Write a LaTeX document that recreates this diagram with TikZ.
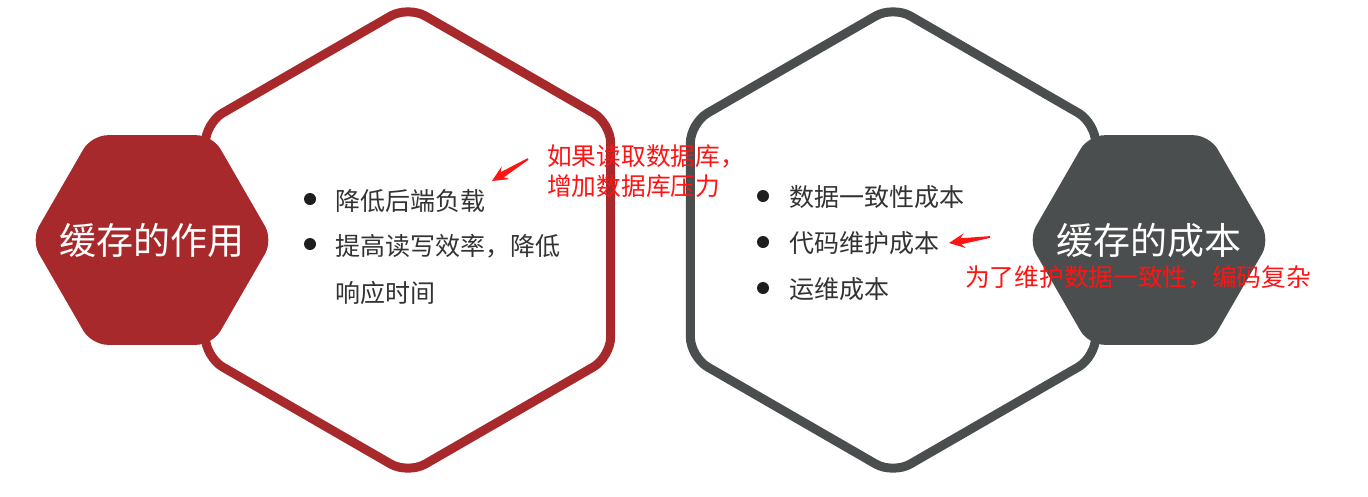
\documentclass[tikz,border=0pt]{standalone}
\usepackage{fontspec}
\setmainfont{Noto Sans CJK SC}
\usetikzlibrary{shapes.geometric,arrows.meta,calc}
\definecolor{hred}{HTML}{A8292B}
\definecolor{hgray}{HTML}{4B4E4E}
\definecolor{btext}{HTML}{333333}
\definecolor{bdot}{HTML}{1E1E1E}
\definecolor{ared}{HTML}{FF1414}
\begin{document}
\begin{tikzpicture}[x=1pt,y=-1pt,
  bighex/.style={regular polygon, regular polygon sides=6, shape border rotate=30,
    minimum size=468pt, inner sep=0pt, line width=9pt, rounded corners=20pt, fill=white},
  smallhex/.style={regular polygon, regular polygon sides=6,
    minimum size=242pt, inner sep=0pt, rounded corners=16pt},
  hexlabel/.style={text=white, font=\fontsize{37pt}{40pt}\selectfont, inner sep=0pt},
  bullet/.style={circle, fill=bdot, minimum size=12pt, inner sep=0pt},
  item/.style={anchor=west, text=btext, font=\fontsize{25pt}{28pt}\selectfont, inner sep=0pt},
  note/.style={anchor=west, text=ared, font=\fontsize{24.7pt}{28pt}\selectfont, inner sep=0pt}
]
\useasboundingbox (0,0) rectangle (1368,496);
\fill[white] (0,0) rectangle (1368,496);

% big outline hexagons
\node[bighex, draw=hred] (lbig) at (408,240) {};
\node[bighex, draw=hgray] (rbig) at (893,240) {};

% small filled hexagons
\node[smallhex, fill=hred] (lsmall) at (152,240) {};
\node[smallhex, fill=hgray] (rsmall) at (1149,240) {};

\node[hexlabel] (ltitle) at (lsmall.center) {缓存的作用};
\node[hexlabel] (rtitle) at (rsmall.center) {缓存的成本};

% left bullets
\node[bullet] (lb1) at (310,199) {};
\node[bullet] (lb2) at (310,244) {};
\node[item] (lt1) at (335,201) {降低后端负载};
\node[item] (lt2) at (335,246) {提高读写效率，降低};
\node[item] (lt3) at (335,293) {响应时间};

% right bullets
\node[bullet] (rb1) at (763,196) {};
\node[bullet] (rb2) at (763,242) {};
\node[bullet] (rb3) at (763,288) {};
\node[item] (rt1) at (789,197) {数据一致性成本};
\node[item] (rt2) at (789,243) {代码维护成本};
\node[item] (rt3) at (789,289) {运维成本};

% annotations
\node[note] (n1) at (547,156) {如果读取数据库，};
\node[note] (n2) at (547,186) {增加数据库压力};
\node[note] (n3) at (965,277) {为了维护数据一致性，编码复杂};

% tapered arrows (tail -> head)
\coordinate (a1t) at (528,159);
\coordinate (a1h) at (492,181);
\coordinate (a2t) at (990,237);
\coordinate (a2h) at (949,243);
\foreach \T/\H in {a1t/a1h, a2t/a2h}{
  \fill[ared] (\H)
    -- ($(\H)!16pt!(\T)!7.5pt!90:(\H)$)
    -- ($(\H)!12pt!(\T)!3pt!90:(\H)$)
    -- ($(\T)!0.9pt!90:(\H)$)
    -- ($(\T)!0.9pt!-90:(\H)$)
    -- ($(\H)!12pt!(\T)!3pt!-90:(\H)$)
    -- ($(\H)!16pt!(\T)!7.5pt!-90:(\H)$)
    -- cycle;
}
\end{tikzpicture}
\end{document}
